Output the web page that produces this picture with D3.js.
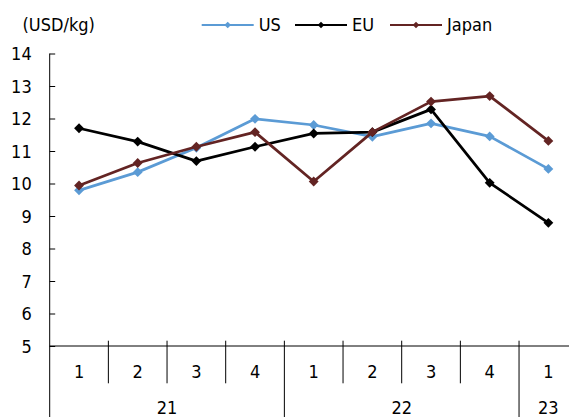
<!DOCTYPE html>
<html>
<head>
<meta charset="utf-8">
<script src="https://cdn.jsdelivr.net/npm/d3@7"></script>
<style>
  html, body { margin: 0; padding: 0; background: #fff; }
  svg { display: block; }
  text { font-family: "DejaVu Sans Condensed", "DejaVu Sans", sans-serif; font-stretch: condensed; fill: #000; }
</style>
</head>
<body>
<svg id="chart" width="569" height="417"></svg>
<script>
// Quarterly prices, USD per kg
const quarters = ["1", "2", "3", "4", "1", "2", "3", "4", "1"];
const years = ["21", "21", "21", "21", "22", "22", "22", "22", "23"];
const yTicks = [5, 6, 7, 8, 9, 10, 11, 12, 13, 14];
const seriesNames = ["US", "EU", "Japan"];
const usValues = [9.79, 10.35, 11.1, 11.99, 11.8, 11.44, 11.85, 11.45, 10.45];
const euValues = [11.7, 11.29, 10.69, 11.13, 11.54, 11.58, 12.28, 10.02, 8.79];
const japanValues = [9.94, 10.63, 11.13, 11.58, 10.06, 11.58, 12.52, 12.69, 11.31];
const seriesColors = ["#5b9bd5", "#000000", "#632423"];

const series = [usValues, euValues, japanValues].map((values, i) => ({
  name: seriesNames[i], color: seriesColors[i], values
}));

const svg = d3.select("#chart");
const plotLeft = 49.7, plotRight = 577.7, plotTop = 53.5, plotBottom = 346;
const fontSize = 18;

const x = d3.scaleBand().domain(d3.range(quarters.length)).range([plotLeft, plotRight]).padding(0);
const y = d3.scaleLinear().domain([5, 14]).range([plotBottom, plotTop]);

// y axis: short inward ticks, labels to the left
const yAxis = d3.axisLeft(y).tickValues(yTicks).tickSize(-5.5).tickPadding(18).tickSizeOuter(0);
const gy = svg.append("g").attr("transform", `translate(${plotLeft},0)`).call(yAxis);
gy.select(".domain").remove();
gy.selectAll("line").attr("stroke", "#000");
gy.selectAll("text").style("font-size", fontSize + "px").attr("dy", "0.36em");
// y axis line continues down through the category rows
svg.append("line").attr("x1", plotLeft).attr("x2", plotLeft).attr("y1", plotTop).attr("y2", 417)
  .attr("stroke", "#000").attr("stroke-width", 1);

// x axis baseline
svg.append("line").attr("x1", plotLeft).attr("x2", 569).attr("y1", plotBottom).attr("y2", plotBottom)
  .attr("stroke", "#000").attr("stroke-width", 1);

// category separators; year boundaries run to the bottom
const bw = x.bandwidth();
d3.range(1, quarters.length).forEach(i => {
  const xs = x(i);
  const yearBreak = years[i] !== years[i - 1];
  svg.append("line").attr("x1", xs).attr("x2", xs)
    .attr("y1", plotBottom - 5.3).attr("y2", yearBreak ? 417 : 383.3)
    .attr("stroke", "#000").attr("stroke-width", 1);
});

// quarter labels
svg.append("g").selectAll("text").data(quarters).join("text")
  .attr("x", (d, i) => x(i) + bw / 2).attr("y", 371.7)
  .attr("dy", "0.36em").attr("text-anchor", "middle")
  .style("font-size", fontSize + "px").text(d => d);

// year labels centred under their quarters
const yearGroups = d3.groups(years.map((yr, i) => ({ yr, i })), d => d.yr);
svg.append("g").selectAll("text").data(yearGroups).join("text")
  .attr("x", d => (x(d[1][0].i) + x(d[1][d[1].length - 1].i) + bw) / 2)
  .attr("y", 408).attr("dy", "0.36em").attr("text-anchor", "middle")
  .style("font-size", fontSize + "px").text(d => d[0]);

// unit label
svg.append("text").attr("x", 22.5).attr("y", 25).attr("dy", "0.36em")
  .style("font-size", fontSize + "px").text("(USD/kg)");

// series lines and diamond markers
const line = d3.line().x((d, i) => x(i) + bw / 2).y(d => y(d));
const diamond = d3.symbol().type(d3.symbolDiamond2).size(62);
const legendDiamond = d3.symbol().type(d3.symbolDiamond2).size(28);

series.forEach(s => {
  const g = svg.append("g");
  g.append("path").attr("d", line(s.values)).attr("fill", "none")
    .attr("stroke", s.color).attr("stroke-width", 2.75).attr("stroke-linejoin", "round");
  g.selectAll("path.m").data(s.values).join("path").attr("class", "m")
    .attr("d", diamond)
    .attr("transform", (d, i) => `translate(${x(i) + bw / 2},${y(d)})`)
    .attr("fill", s.color);
});

// legend
const legendX = [201.7, 295, 390];
series.forEach((s, i) => {
  const g = svg.append("g").attr("transform", `translate(${legendX[i]},25)`);
  g.append("line").attr("x1", 0).attr("x2", 52).attr("stroke", s.color).attr("stroke-width", 2.2);
  g.append("path").attr("d", legendDiamond).attr("transform", "translate(26,0)").attr("fill", s.color);
  g.append("text").attr("x", 57).attr("dy", "0.36em").style("font-size", fontSize + "px").text(s.name);
});
</script>
</body>
</html>
